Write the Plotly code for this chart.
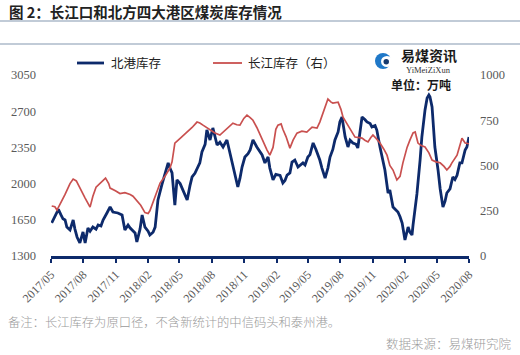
import plotly.graph_objects as go

# ---------------- data ----------------
north_dates = [
    "2017-05-03", "2017-05-12", "2017-05-22", "2017-05-29", "2017-06-04", "2017-06-10", "2017-06-15",
    "2017-06-24", "2017-07-03", "2017-07-08", "2017-07-14", "2017-07-22", "2017-07-31", "2017-08-06",
    "2017-08-14", "2017-08-20", "2017-08-28", "2017-09-06", "2017-09-12", "2017-09-20", "2017-09-26",
    "2017-10-07", "2017-10-16", "2017-10-24", "2017-11-07", "2017-11-19", "2017-11-27", "2017-12-06",
    "2017-12-12", "2017-12-26", "2017-12-31", "2018-01-09", "2018-01-15", "2018-01-23", "2018-02-01",
    "2018-02-06", "2018-02-15", "2018-02-21", "2018-03-01", "2018-03-12", "2018-03-21", "2018-03-30",
    "2018-04-04", "2018-04-10", "2018-04-18", "2018-04-24", "2018-05-03", "2018-05-08", "2018-05-23",
    "2018-05-31", "2018-06-06", "2018-06-14", "2018-06-20", "2018-06-28", "2018-07-04", "2018-07-13",
    "2018-07-18", "2018-07-27", "2018-08-04", "2018-08-10", "2018-08-16", "2018-08-24", "2018-09-02",
    "2018-09-13", "2018-09-22", "2018-09-27", "2018-10-06", "2018-10-14", "2018-10-20", "2018-10-26",
    "2018-11-03", "2018-11-12", "2018-11-18", "2018-11-26", "2018-12-07", "2018-12-16", "2018-12-22",
    "2018-12-30", "2019-01-08", "2019-01-13", "2019-01-22", "2019-01-30", "2019-02-05", "2019-02-11",
    "2019-02-19", "2019-02-25", "2019-03-03", "2019-03-11", "2019-03-17", "2019-03-25", "2019-04-03",
    "2019-04-09", "2019-04-17", "2019-04-23", "2019-05-01", "2019-05-07", "2019-05-16", "2019-05-24",
    "2019-06-04", "2019-06-10", "2019-06-19", "2019-06-27", "2019-07-03", "2019-07-11", "2019-07-17",
    "2019-07-26", "2019-07-31", "2019-08-06", "2019-08-15", "2019-08-23", "2019-08-29", "2019-09-06",
    "2019-09-15", "2019-09-20", "2019-09-26", "2019-10-02", "2019-10-10", "2019-10-16", "2019-10-25",
    "2019-10-30", "2019-11-08", "2019-11-13", "2019-11-22", "2019-11-28", "2019-12-06", "2019-12-15",
    "2019-12-20", "2019-12-29", "2020-01-06", "2020-01-12", "2020-01-18", "2020-01-24", "2020-02-01",
    "2020-02-07", "2020-02-10", "2020-02-15", "2020-02-21", "2020-02-24", "2020-03-01", "2020-03-06",
    "2020-03-15", "2020-03-20", "2020-03-29", "2020-04-04", "2020-04-09", "2020-04-12", "2020-04-18",
    "2020-04-21", "2020-04-26", "2020-05-05", "2020-05-11", "2020-05-19", "2020-05-25", "2020-05-30",
    "2020-06-08", "2020-06-16", "2020-06-22", "2020-06-28", "2020-07-06", "2020-07-12", "2020-07-21",
    "2020-07-26", "2020-08-01",
]
north_values = [
    1620, 1690, 1750, 1700, 1660, 1648, 1580,
    1551, 1648, 1560, 1484, 1426, 1532, 1426,
    1570, 1540, 1580, 1560, 1600, 1590, 1648,
    1716, 1774, 1725, 1716, 1696, 1551, 1600,
    1570, 1522, 1435, 1560, 1696, 1580, 1540,
    1503, 1530, 1580, 1842, 1987, 2083, 2200,
    2150, 2103, 1793, 2035, 2000, 1957, 1842,
    1980, 2064, 2100, 2151, 2200, 2306, 2380,
    2518, 2422, 2538, 2450, 2373, 2400, 2354,
    2422, 2296, 2200, 2103, 1967, 2050, 2160,
    2257, 2290, 2325, 2422, 2354, 2300, 2277,
    2200, 2257, 2150, 2035, 2090, 2083, 2080,
    2006, 2030, 2083, 2103, 2209, 2228, 2160,
    2180, 2200, 2180, 2257, 2280, 2393, 2330,
    2228, 2150, 2054, 2150, 2257, 2330, 2422,
    2500, 2596, 2644, 2451, 2354, 2420, 2393,
    2380, 2344, 2500, 2644, 2620, 2596, 2580,
    2548, 2560, 2518, 2354, 2250, 2132, 1909,
    1938, 1774, 1750, 1725, 1680, 1619, 1455,
    1522, 1580, 1530, 1503, 1600, 1764, 1900,
    2228, 2450, 2712, 2828, 2857, 2840, 2741,
    2600, 2354, 2132, 1950, 1774, 1830, 1909,
    1950, 2064, 2040, 2080, 2200, 2200, 2325,
    2354, 2451,
]

yangtze_dates = [
    "2017-05-03", "2017-05-12", "2017-05-18", "2017-05-26", "2017-06-10", "2017-06-24", "2017-07-03",
    "2017-07-12", "2017-07-22", "2017-08-06", "2017-08-20", "2017-08-28", "2017-09-06", "2017-09-19",
    "2017-10-03", "2017-10-12", "2017-10-16", "2017-10-31", "2017-11-13", "2017-11-27", "2017-12-12",
    "2017-12-20", "2017-12-31", "2018-01-11", "2018-01-23", "2018-02-01", "2018-02-06", "2018-02-21",
    "2018-03-07", "2018-03-21", "2018-04-04", "2018-04-10", "2018-04-18", "2018-05-03", "2018-05-23",
    "2018-06-06", "2018-06-20", "2018-06-28", "2018-07-07", "2018-07-18", "2018-07-27", "2018-08-10",
    "2018-08-24", "2018-09-05", "2018-09-13", "2018-09-30", "2018-10-11", "2018-10-20", "2018-10-31",
    "2018-11-09", "2018-11-18", "2018-11-26", "2018-12-07", "2018-12-16", "2018-12-27", "2019-01-05",
    "2019-01-13", "2019-01-22", "2019-01-30", "2019-02-05", "2019-02-14", "2019-02-19", "2019-02-28",
    "2019-03-11", "2019-03-20", "2019-03-31", "2019-04-14", "2019-04-28", "2019-05-13", "2019-05-27",
    "2019-06-04", "2019-06-13", "2019-06-21", "2019-06-27", "2019-07-06", "2019-07-11", "2019-07-26",
    "2019-08-03", "2019-08-09", "2019-08-17", "2019-08-23", "2019-09-03", "2019-09-12", "2019-09-20",
    "2019-10-02", "2019-10-10", "2019-10-19", "2019-10-27", "2019-11-02", "2019-11-11", "2019-11-22",
    "2019-12-03", "2019-12-12", "2019-12-20", "2019-12-29", "2020-01-09", "2020-01-18", "2020-01-26",
    "2020-02-07", "2020-02-15", "2020-02-24", "2020-03-01", "2020-03-09", "2020-03-18", "2020-03-29",
    "2020-04-09", "2020-04-18", "2020-04-29", "2020-05-11", "2020-05-22", "2020-05-30", "2020-06-08",
    "2020-06-13", "2020-06-28", "2020-07-06", "2020-07-12", "2020-07-21", "2020-07-29", "2020-08-01",
]
yangtze_values = [
    276, 272, 254, 282, 340, 400, 425,
    415, 380, 320, 270, 330, 380, 405,
    430, 400, 375, 360, 345, 350, 340,
    330, 305, 280, 240, 235, 250, 330,
    403, 440, 486, 520, 624, 650, 685,
    710, 740, 735, 723, 710, 695, 680,
    668, 690, 707, 734, 725, 723, 760,
    778, 765, 750, 710, 668, 620, 585,
    557, 600, 700, 723, 730, 700, 660,
    596, 640, 679, 690, 685, 712, 707,
    740, 790, 840, 867, 850, 845, 850,
    810, 767, 740, 723, 690, 657, 655,
    651, 640, 630, 655, 668, 650, 624,
    590, 557, 500, 475, 420, 440, 513,
    600, 640, 680, 685, 624, 610, 602,
    570, 530, 520, 515, 495, 475, 495,
    513, 557, 610, 651, 624, 624, 620,
]

tick_dates = ["2017-05-01", "2017-08-01", "2017-11-01", "2018-02-01", "2018-05-01", "2018-08-01",
              "2018-11-01", "2019-02-01", "2019-05-01", "2019-08-01", "2019-11-01", "2020-02-01",
              "2020-05-01", "2020-08-01"]
tick_labels = ["2017/05", "2017/08", "2017/11", "2018/02", "2018/05", "2018/08", "2018/11",
               "2019/02", "2019/05", "2019/08", "2019/11", "2020/02", "2020/05", "2020/08"]
left_ticks = [1300, 1650, 2000, 2350, 2700, 3050]
right_ticks = [0, 250, 500, 750, 1000]

series_names = ["北港库存", "长江库存（右）"]
title_text = "图 2：长江口和北方四大港区煤炭库存情况"
note_text = "备注：长江库存为原口径，不含新统计的中信码头和泰州港。"
source_text = "数据来源：易煤研究院"

# ---------------- layout helpers ----------------
W, H = 520, 355
L, R, T, B = 51, 51, 75, 99
NAVY = "#0d2a6b"
RED = "#c9504f"
AXIS_FONT = dict(family="Liberation Serif", size=12.5, color="#595959")
CJK = "Noto Sans CJK SC"


def px(x):
    return (x - L) / (W - L - R)


def py(y):
    return (H - B - y) / (H - T - B)


fig = go.Figure()
fig.add_trace(go.Scatter(x=north_dates, y=north_values, mode="lines", name=series_names[0],
                         line=dict(color=NAVY, width=2.8), yaxis="y", showlegend=False))
fig.add_trace(go.Scatter(x=yangtze_dates, y=yangtze_values, mode="lines", name=series_names[1],
                         line=dict(color=RED, width=1.7), yaxis="y2", showlegend=False))

shapes = [
    dict(type="line", xref="paper", yref="paper", x0=px(0), x1=px(520), y0=py(21), y1=py(21),
         line=dict(color="#8497b0", width=1.2)),
    dict(type="line", xref="paper", yref="paper", x0=px(0), x1=px(520), y0=py(44), y1=py(44),
         line=dict(color="#8497b0", width=1.2)),
    # legend keys
    dict(type="line", xref="paper", yref="paper", x0=px(77), x1=px(104), y0=py(63), y1=py(63),
         line=dict(color=NAVY, width=2.8)),
    dict(type="line", xref="paper", yref="paper", x0=px(213), x1=px(242), y0=py(63), y1=py(63),
         line=dict(color=RED, width=1.8)),
    # logo
    dict(type="circle", xref="paper", yref="paper", x0=px(375), x1=px(391), y0=py(69), y1=py(53),
         fillcolor="#1f78c8", line=dict(width=0)),
    dict(type="circle", xref="paper", yref="paper", x0=px(381), x1=px(393), y0=py(67), y1=py(56),
         fillcolor="white", line=dict(width=0)),
    dict(type="circle", xref="paper", yref="paper", x0=px(383.5), x1=px(389), y0=py(64.5), y1=py(59),
         fillcolor="#163a6e", line=dict(width=0)),
]

annotations = [
    dict(text=title_text, x=px(7), y=py(11), xref="paper", yref="paper", xanchor="left",
         yanchor="middle", showarrow=False, font=dict(family=CJK, size=14.5, color="#222222", weight="bold")),
    dict(text=series_names[0], x=px(109), y=py(63), xref="paper", yref="paper", xanchor="left",
         yanchor="middle", showarrow=False, font=dict(family=CJK, size=12.5, color="#222222")),
    dict(text=series_names[1], x=px(246), y=py(63), xref="paper", yref="paper", xanchor="left",
         yanchor="middle", showarrow=False, font=dict(family=CJK, size=12.5, color="#222222")),
    dict(text="易煤资讯", x=px(399), y=py(55), xref="paper", yref="paper", xanchor="left",
         yanchor="middle", showarrow=False, font=dict(family=CJK, size=14, color="#1a1a1a", weight="bold")),
    dict(text="YiMeiZiXun", x=px(404), y=py(70), xref="paper", yref="paper", xanchor="left",
         yanchor="middle", showarrow=False, font=dict(family="Liberation Serif", size=8.5, color="#333333")),
    dict(text="单位：万吨", x=px(421), y=py(84), xref="paper", yref="paper", xanchor="center",
         yanchor="middle", showarrow=False, font=dict(family=CJK, size=12, color="#1a1a1a", weight="bold")),
    dict(text=note_text, x=px(6), y=py(322), xref="paper", yref="paper", xanchor="left",
         yanchor="middle", showarrow=False, font=dict(family=CJK, size=12.3, color="#9a9a9a", weight=300)),
    dict(text=source_text, x=px(513), y=py(343), xref="paper", yref="paper", xanchor="right",
         yanchor="middle", showarrow=False, font=dict(family=CJK, size=12.5, color="#9a9a9a", weight=300)),
]

fig.update_layout(
    width=W, height=H,
    margin=dict(l=L, r=R, t=T, b=B, pad=0),
    paper_bgcolor="white", plot_bgcolor="white",
    showlegend=False,
    shapes=shapes, annotations=annotations,
    xaxis=dict(type="date", range=["2017-05-01", "2020-08-01"], tickmode="array",
               tickvals=tick_dates, ticktext=tick_labels, tickangle=-45,
               showline=True, linecolor=NAVY, linewidth=2.5, ticks="outside", ticklen=4,
               tickwidth=2, tickcolor=NAVY, showgrid=False, zeroline=False,
               tickfont=dict(family="Liberation Serif", size=12, color="#595959")),
    yaxis=dict(range=[1300, 3050], tickmode="array", tickvals=left_ticks, showgrid=False,
               zeroline=False, showline=False, ticks="", tickfont=AXIS_FONT, ticklabelstandoff=14),
    yaxis2=dict(range=[0, 1000], tickmode="array", tickvals=right_ticks, overlaying="y",
                side="right", showgrid=False, zeroline=False, showline=False, ticks="",
                tickfont=AXIS_FONT, ticklabelstandoff=10),
)

fig.write_html("out.html", config={"displayModeBar": False},
               post_script="document.body.style.margin='0';document.body.style.padding='0';")
